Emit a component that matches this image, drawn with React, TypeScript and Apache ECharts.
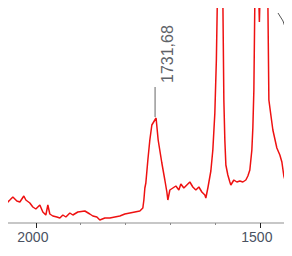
import React, { useEffect, useRef } from "react";
import * as echarts from "echarts";

// wavenumber (cm-1) and absorbance (a.u.)
const wavenumbers = [
  2080.4, 2073.7, 2058.0, 2051.3, 2042.4, 2035.7, 2026.8, 2022.3, 2013.4, 2006.7,
  2000.0, 1991.1, 1984.4, 1977.7, 1973.2, 1968.8, 1962.1, 1953.1, 1946.4, 1939.7,
  1933.0, 1924.1, 1917.4, 1906.3, 1890.6, 1879.5, 1872.8, 1863.8, 1857.2, 1846.0,
  1834.8, 1823.7, 1812.5, 1801.4, 1790.2, 1779.0, 1767.9, 1761.2, 1758.9, 1756.7,
  1754.5, 1750.0, 1745.6, 1741.1, 1731.68, 1727.0, 1718.8, 1712.1, 1707.6, 1705.4,
  1700.9, 1694.2, 1687.5, 1680.8, 1676.4, 1669.7, 1663.0, 1656.3, 1649.6, 1642.9,
  1636.2, 1629.5, 1622.8, 1620.6, 1616.1, 1609.4, 1605.0, 1600.5, 1597.1, 1594.9,
  1589.3, 1582.6, 1580.4, 1578.2, 1575.9, 1571.5, 1567.0, 1564.8, 1558.1, 1551.4,
  1544.7, 1538.0, 1531.3, 1526.8, 1522.4, 1517.9, 1515.7, 1513.4, 1511.2, 1506.7,
  1501.1, 1495.6, 1486.6, 1482.2, 1479.9, 1475.5, 1471.0, 1462.1, 1455.4, 1450.9,
  1446.5, 1442.0, 1437.5, 1435.3,
];
const absorbance = [
  0.18, 0.16, 0.23, 0.26, 0.22, 0.21, 0.27, 0.23, 0.20, 0.16,
  0.14, 0.18, 0.11, 0.08, 0.18, 0.09, 0.07, 0.06, 0.05, 0.08,
  0.06, 0.10, 0.08, 0.11, 0.12, 0.09, 0.07, 0.06, 0.03, 0.05,
  0.05, 0.06, 0.07, 0.09, 0.10, 0.11, 0.12, 0.15, 0.23, 0.35,
  0.40, 0.63, 0.83, 0.98, 1.05, 0.83, 0.60, 0.43, 0.31, 0.23,
  0.33, 0.35, 0.37, 0.33, 0.39, 0.35, 0.38, 0.41, 0.36, 0.33,
  0.36, 0.31, 0.28, 0.25, 0.35, 0.52, 0.73, 1.10, 1.63, 2.23,
  3.20, 2.23, 1.23, 0.83, 0.58, 0.48, 0.41, 0.38, 0.43, 0.41,
  0.42, 0.41, 0.43, 0.47, 0.53, 0.73, 0.95, 1.33, 2.23, 3.00,
  2.01, 3.00, 3.00, 2.23, 1.23, 1.08, 0.93, 0.75, 0.68, 0.61,
  0.47, 0.40, 0.33, 0.34,
];
const majorTicks = [2000, 1500];
const minorTicks = [1900, 1800, 1700, 1600];
const peakLabel = { wavenumber: 1731.68, value: 1.05, text: "1731,68" };

export default function App() {
  const ref = useRef<HTMLDivElement>(null);
  useEffect(() => {
    if (!ref.current) return;
    const chart = echarts.init(ref.current, null, { renderer: "svg" });
    const data = wavenumbers.map((w, i) => [w, absorbance[i]]);
    const axisCommon = {
      type: "value" as const,
      inverse: true,
      min: 1435,
      max: 2080,
      position: "bottom" as const,
      gridIndex: 0,
      splitLine: { show: false },
    };
    chart.setOption({
      animation: false,
      grid: { left: 0, right: 3, top: 0, bottom: 33 },
      xAxis: [
        {
          ...axisCommon,
          axisLine: { lineStyle: { color: "#b4b4b4", width: 1.5 } },
          axisTick: {
            customValues: majorTicks,
            length: 5,
            lineStyle: { color: "#222", width: 1 },
          },
          axisLabel: {
            customValues: majorTicks,
            formatter: (v: number) => String(v),
            color: "#4a5262",
            fontSize: 14,
            fontFamily: "Liberation Sans, Arial, sans-serif",
            margin: 7,
            padding: [0, 6, 0, 0],
          },
        },
        {
          ...axisCommon,
          axisLine: { show: false },
          axisTick: {
            customValues: minorTicks,
            length: 2,
            lineStyle: { color: "#8a8a8a", width: 1 },
          },
          axisLabel: { show: false },
        },
      ],
      yAxis: { type: "value", min: 0, max: 2.23, show: false },
      series: [
        {
          type: "line",
          data,
          xAxisIndex: 0,
          showSymbol: false,
          symbol: "none",
          clip: true,
          lineStyle: { color: "#ee1111", width: 1.5 },
        },
      ],
    });
    const p = chart.convertToPixel({ xAxisIndex: 0, yAxisIndex: 0 }, [
      peakLabel.wavenumber,
      peakLabel.value,
    ]) as number[];
    chart.setOption({
      graphic: [
        {
          type: "line",
          shape: { x1: p[0] - 1, y1: p[1] - 1, x2: p[0] - 1, y2: p[1] - 31 },
          style: { stroke: "#666", lineWidth: 1 },
        },
        {
          type: "text",
          x: p[0] + 11,
          y: p[1] - 35,
          rotation: Math.PI / 2,
          style: {
            text: peakLabel.text,
            fill: "#5f6368",
            font: "16px 'Liberation Sans', Arial, sans-serif",
            fontSize: 16,
            align: "left",
            verticalAlign: "middle",
          },
        },
        {
          type: "polyline",
          shape: { points: [[278, 13], [283, 21], [287, 33]] },
          style: { stroke: "#555", lineWidth: 1, fill: "none" },
        },
        {
          type: "circle",
          shape: { cx: 286, cy: 7, r: 1.2 },
          style: { fill: "#444" },
        },
      ],
    });
    return () => chart.dispose();
  }, []);
  return <div ref={ref} style={{ width: 292, height: 256, margin: -8 }} />;
}
